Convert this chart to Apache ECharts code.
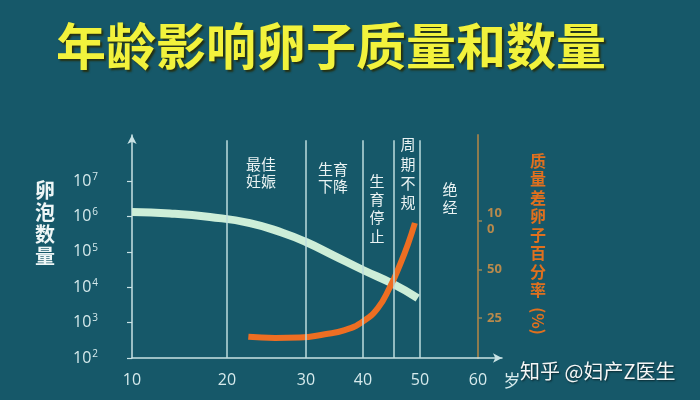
<!DOCTYPE html>
<html><head><meta charset="utf-8">
<script src="https://cdn.jsdelivr.net/npm/echarts@6/dist/echarts.min.js"></script>
<style>html,body{margin:0;padding:0;background:#165869}#c{width:700px;height:400px}</style>
</head><body><div id="c"></div>
<script>
// ---- data ----
const ageTicks = [10, 20, 30, 40, 50, 60];
const countTicks = [1e2, 1e3, 1e4, 1e5, 1e6, 1e7];
const pctTicks = [25, 50, 100];
const follicleAges = [10, 14.0, 18.2, 22.9, 27.1, 30, 34.7, 40, 45.3, 49.6];
const follicleCounts = [1.33e6, 1.21e6, 9.6e5, 6.5e5, 3.4e5, 1.89e5, 8.1e4, 3.06e4, 1.23e4, 4.95e3];
const poorAges = [22.7, 26.1, 29.2, 33.3, 36.8, 40, 42.6, 44.7, 46.5, 47.9, 49.1];
const poorPct = [19.1, 18.8, 18.9, 19.8, 21.0, 23.8, 28.8, 38.7, 53.7, 72.0, 97.2];
const dividerAges = [20, 30, 40, 45.4, 50];
const stageLabels = ['最佳\n妊娠', '生育\n下降', '生\n育\n停\n止', '周\n期\n不\n规', '绝\n经'];

// ---- the drawn age axis is not uniform: axis units for each age tick ----
const ageAxisUnits = [0, 95, 174, 231, 288, 346];
function ageToAxis(a) {
  for (let i = 0; i < ageTicks.length - 1; i++) {
    if (a <= ageTicks[i + 1] || i === ageTicks.length - 2) {
      const t = (a - ageTicks[i]) / (ageTicks[i + 1] - ageTicks[i]);
      return ageAxisUnits[i] + t * (ageAxisUnits[i + 1] - ageAxisUnits[i]);
    }
  }
}
function axisToAgeLabel(v) {
  let best = 0;
  for (let i = 0; i < ageAxisUnits.length; i++) if (Math.abs(ageAxisUnits[i] - v) < Math.abs(ageAxisUnits[best] - v)) best = i;
  return Math.abs(ageAxisUnits[best] - v) < 1 ? String(ageTicks[best]) : '';
}

const axisColor = '#c9e2e4';
const font = '"Noto Sans CJK SC", "Noto Sans", sans-serif';
const chart = echarts.init(document.getElementById('c'));

const stagePos = [
  {x: 261, y: 155.5, lh: 17},
  {x: 333, y: 160.5, lh: 17},
  {x: 377, y: 172, lh: 18.3},
  {x: 408, y: 135, lh: 19.3},
  {x: 450, y: 181, lh: 17.5}
];

chart.setOption({
  backgroundColor: '#165869',
  animation: false,
  title: {
    text: '年龄影响卵子质量和数量',
    left: 51, top: 16,
    textStyle: {
      color: '#f2f23c', fontSize: 50, fontWeight: 'bold', fontFamily: font,
      textShadowColor: 'rgba(40,40,0,0.85)', textShadowBlur: 2, textShadowOffsetX: 2, textShadowOffsetY: 2
    }
  },
  grid: {left: 132, right: 198, top: 135, bottom: 42},
  xAxis: {
    type: 'value', min: 0, max: 370,
    axisLine: {show: true, symbol: ['none', 'arrow'], symbolSize: [7, 9], lineStyle: {color: axisColor, width: 1.5}},
    axisTick: {show: false},
    splitLine: {show: false},
    axisLabel: {
      customValues: ageAxisUnits,
      formatter: axisToAgeLabel,
      color: '#d6eaec', fontSize: 16, margin: 14, fontFamily: '"Open Sans", sans-serif'
    }
  },
  yAxis: [{
    type: 'log', logBase: 10, min: 100, max: Math.pow(10, 8.3),
    axisLine: {show: true, symbol: ['none', 'arrow'], symbolSize: [7, 9], lineStyle: {color: axisColor, width: 1.5}},
    axisTick: {show: true, customValues: countTicks, length: 5, inside: false, lineStyle: {color: axisColor, width: 1.2}},
    splitLine: {show: false},
    axisLabel: {
      customValues: countTicks,
      margin: 34, align: 'right',
      formatter: v => '{b|10}{s|' + Math.round(Math.log10(v)) + '}',
      rich: {
        b: {color: '#d6eaec', fontSize: 16, fontFamily: '"Open Sans", sans-serif'},
        s: {color: '#d6eaec', fontSize: 10, fontFamily: '"Open Sans", sans-serif', padding: [0, 0, 8, 1]}
      }
    }
  }, {
    type: 'log', logBase: 2, min: 14.1, max: 342, position: 'right', offset: -24,
    axisLine: {show: true, lineStyle: {color: '#8e7b4e', width: 2}},
    axisTick: {show: true, customValues: pctTicks, length: 4, lineStyle: {color: '#9c8757', width: 1.5}},
    splitLine: {show: false},
    axisLabel: {
      customValues: pctTicks,
      margin: 9,
      formatter: v => (Math.round(v) === 100 ? '10\n0' : String(Math.round(v))),
      color: '#b88a4c', fontSize: 13, fontWeight: 'bold', lineHeight: 16, fontFamily: '"Open Sans", sans-serif'
    }
  }],
  series: [{
    type: 'line', data: [], z: 1, silent: true,
    markLine: {
      silent: true, symbol: 'none', label: {show: false},
      lineStyle: {color: '#bcdcde', width: 1.5, type: 'solid'},
      data: dividerAges.map(a => [{coord: [ageToAxis(a), Math.pow(10, 8.15)]}, {coord: [ageToAxis(a), 100]}])
    }
  }, {
    name: '卵泡数量', type: 'line', yAxisIndex: 0, z: 3,
    data: follicleAges.map((a, i) => [ageToAxis(a), follicleCounts[i]]),
    smooth: 0.5, symbol: 'none',
    lineStyle: {color: '#cdeed8', width: 8, cap: 'butt'}
  }, {
    name: '质量差卵子百分率', type: 'line', yAxisIndex: 1, z: 4,
    data: poorAges.map((a, i) => [ageToAxis(a), poorPct[i]]),
    smooth: 0.5, symbol: 'none',
    lineStyle: {color: '#ee6e22', width: 6, cap: 'butt'}
  }],
  graphic: [
    {type: 'text', style: {text: '卵\n泡\n数\n量', x: 45, y: 179, align: 'center', verticalAlign: 'top', lineHeight: 22.2,
      fill: '#eef6f6', fontSize: 20, fontWeight: 'bold', fontFamily: font}},
    {type: 'text', style: {text: '质\n量\n差\n卵\n子\n百\n分\n率', x: 538, y: 151.5, align: 'center', verticalAlign: 'top', lineHeight: 18.5,
      fill: '#e0701e', fontSize: 16, fontWeight: 'bold', fontFamily: font}},
    {type: 'text', x: 538, y: 321, rotation: -Math.PI / 2, style: {text: '(%)', x: 0, y: 0, align: 'center', verticalAlign: 'middle',
      fill: '#e0701e', fontSize: 16, fontWeight: 'bold', fontFamily: font}},
    {type: 'text', style: {text: '岁', x: 512, y: 381, align: 'center', verticalAlign: 'middle',
      fill: '#d6eaec', fontSize: 17, fontFamily: font}},
    {type: 'text', style: {text: '知乎 @妇产Z医生', x: 520, y: 371, align: 'left', verticalAlign: 'middle',
      fill: '#f4f6f6', fontSize: 20, fontFamily: font, textShadowColor: 'rgba(0,0,0,0.6)', textShadowBlur: 2, textShadowOffsetX: 1, textShadowOffsetY: 1}}
  ].concat(stageLabels.map((t, i) => ({
    type: 'text', style: {text: t, x: stagePos[i].x, y: stagePos[i].y, align: 'center', verticalAlign: 'top',
      lineHeight: stagePos[i].lh, fill: '#eaf3f3', fontSize: 15, fontFamily: font}
  })))
});
</script>
</body></html>
